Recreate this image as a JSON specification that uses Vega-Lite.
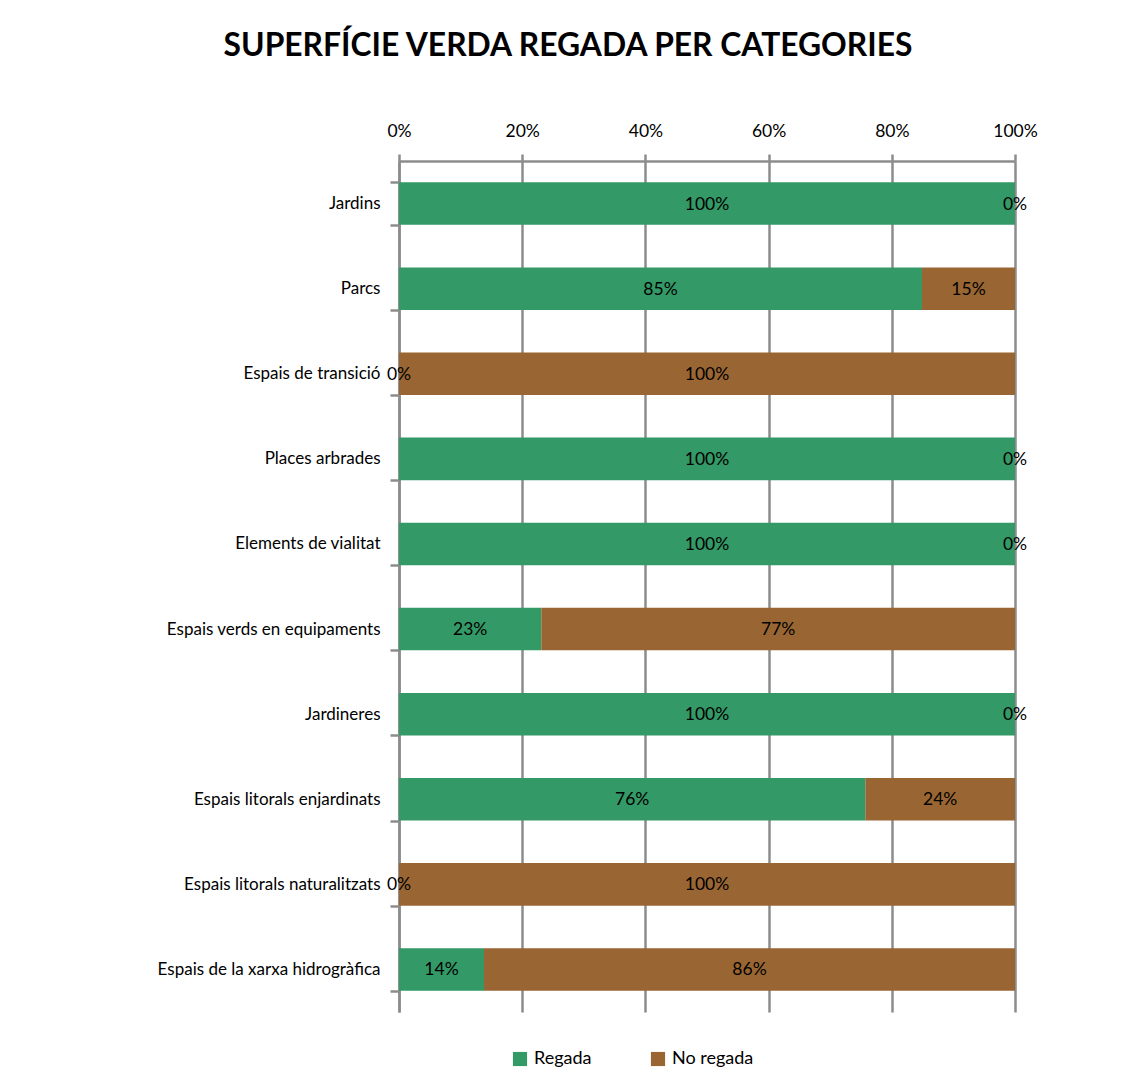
{
  "$schema": "https://vega.github.io/schema/vega-lite/v6.json",
  "width": 616,
  "height": 851,
  "autosize": "none",
  "padding": {"left": 399, "top": 161, "right": 115, "bottom": 69},
  "background": "white",
  "title": {
    "text": "SUPERFÍCIE VERDA REGADA PER CATEGORIES",
    "font": "Lato",
    "fontSize": 31.8,
    "fontWeight": "bold",
    "color": "black",
    "anchor": "middle",
    "dx": -139,
    "offset": 59
  },
  "config": {
    "view": {"stroke": null},
    "font": "Lato"
  },
  "data": {
    "values": [
      {"categoria": "Jardins", "tipus": "Regada", "valor": 1.0},
      {"categoria": "Jardins", "tipus": "No regada", "valor": 0.0},
      {"categoria": "Parcs", "tipus": "Regada", "valor": 0.849},
      {"categoria": "Parcs", "tipus": "No regada", "valor": 0.151},
      {"categoria": "Espais de transició", "tipus": "Regada", "valor": 0.0},
      {"categoria": "Espais de transició", "tipus": "No regada", "valor": 1.0},
      {"categoria": "Places arbrades", "tipus": "Regada", "valor": 1.0},
      {"categoria": "Places arbrades", "tipus": "No regada", "valor": 0.0},
      {"categoria": "Elements de vialitat", "tipus": "Regada", "valor": 1.0},
      {"categoria": "Elements de vialitat", "tipus": "No regada", "valor": 0.0},
      {"categoria": "Espais verds en equipaments", "tipus": "Regada", "valor": 0.231},
      {"categoria": "Espais verds en equipaments", "tipus": "No regada", "valor": 0.769},
      {"categoria": "Jardineres", "tipus": "Regada", "valor": 1.0},
      {"categoria": "Jardineres", "tipus": "No regada", "valor": 0.0},
      {"categoria": "Espais litorals enjardinats", "tipus": "Regada", "valor": 0.757},
      {"categoria": "Espais litorals enjardinats", "tipus": "No regada", "valor": 0.243},
      {"categoria": "Espais litorals naturalitzats", "tipus": "Regada", "valor": 0.0},
      {"categoria": "Espais litorals naturalitzats", "tipus": "No regada", "valor": 1.0},
      {"categoria": "Espais de la xarxa hidrogràfica", "tipus": "Regada", "valor": 0.138},
      {"categoria": "Espais de la xarxa hidrogràfica", "tipus": "No regada", "valor": 0.862}
    ]
  },
  "transform": [
    {"stack": "valor", "groupby": ["categoria"], "sort": [{"field": "tipus", "order": "descending"}], "as": ["v0", "v1"]},
    {"calculate": "(datum.v0 + datum.v1) / 2", "as": "vm"}
  ],
  "encoding": {
    "y": {
      "field": "categoria",
      "type": "nominal",
      "sort": null,
      "title": null,
      "scale": {"paddingInner": 0.5, "paddingOuter": 0.25},
      "axis": {
        "orient": "left",
        "tickBand": "extent",
        "tickSize": 9,
        "tickColor": "#8c8c8c",
        "tickWidth": 2.5,
        "domainColor": "#8c8c8c",
        "domainWidth": 2.5,
        "labelPadding": 10,
        "labelFont": "Lato",
        "labelFontSize": 17,
        "labelColor": "black",
        "labelLimit": 400,
        "grid": false
      }
    }
  },
  "layer": [
    {
      "mark": {"type": "bar"},
      "encoding": {
        "x": {
          "field": "v0",
          "type": "quantitative",
          "scale": {"domain": [0, 1], "nice": false},
          "title": null,
          "axis": {
            "orient": "top",
            "format": ".0%",
            "values": [0, 0.2, 0.4, 0.6, 0.8, 1],
            "labelFlush": false,
            "tickSize": 7,
            "tickColor": "#8c8c8c",
            "tickWidth": 2.5,
            "domainColor": "#8c8c8c",
            "domainWidth": 2.5,
            "grid": true,
            "gridColor": "#8c8c8c",
            "gridWidth": 2.5,
            "labelPadding": 14,
            "labelFont": "Lato",
            "labelFontSize": 17.5,
            "labelColor": "black"
          }
        },
        "x2": {"field": "v1"},
        "color": {
          "field": "tipus",
          "type": "nominal",
          "scale": {"domain": ["Regada", "No regada"], "range": ["#339966", "#996633"]},
          "legend": {
            "title": null,
            "orient": "none",
            "direction": "horizontal",
            "legendX": 112,
            "legendY": 889,
            "symbolType": "square",
            "symbolSize": 200,
            "symbolStrokeWidth": 0,
            "labelFont": "Lato",
            "labelFontSize": 18,
            "labelColor": "black",
            "labelOffset": 5,
            "columnPadding": 57
          }
        }
      }
    },
    {
      "mark": {"type": "text", "font": "Lato", "fontSize": 17.5, "color": "black", "baseline": "middle", "align": "center", "dy": 1}
      ,
      "encoding": {
        "x": {"field": "vm", "type": "quantitative"},
        "text": {"field": "valor", "type": "quantitative", "format": ".0%"}
      }
    }
  ]
}
